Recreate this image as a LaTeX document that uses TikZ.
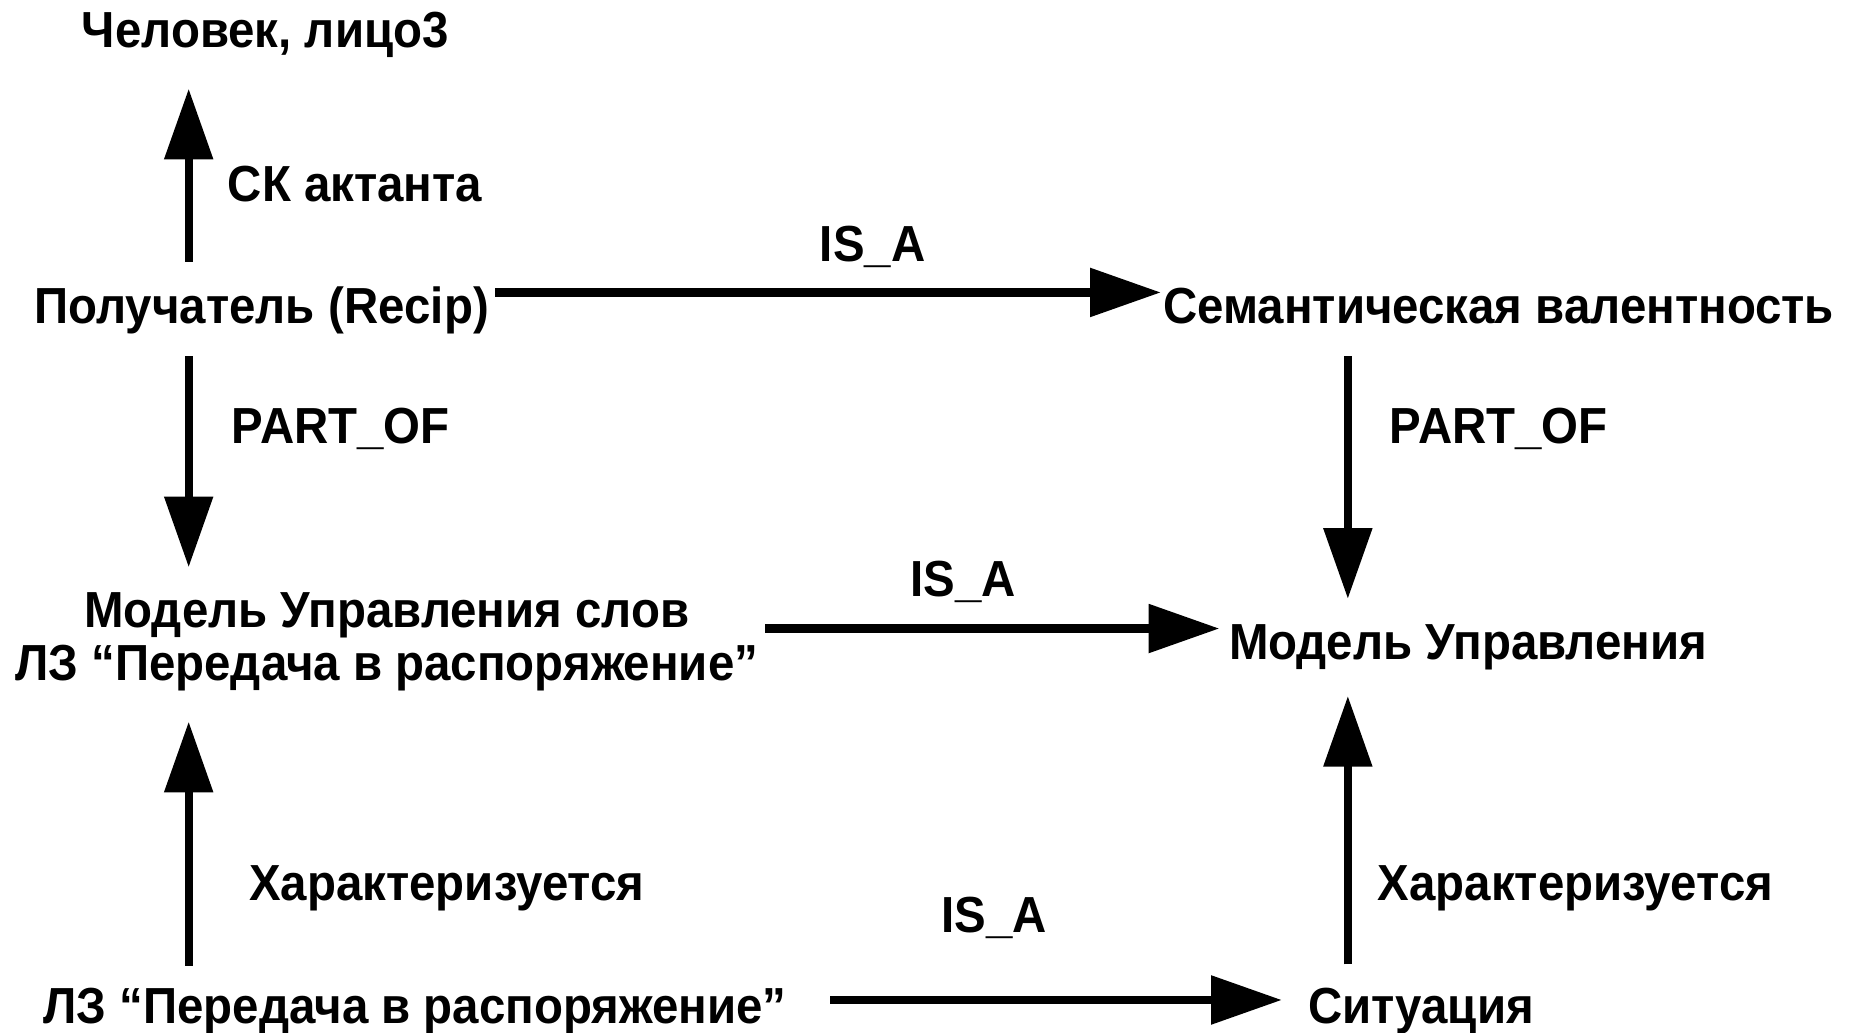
\documentclass[tikz,border=0pt]{standalone}
\usepackage{fontspec}
\setmainfont{Liberation Sans}[FakeStretch=0.935]
\usetikzlibrary{arrows.meta}
\begin{document}
\begin{tikzpicture}[x=1pt,y=-1pt,
  lbl/.style={inner sep=0pt, font=\bfseries\fontsize{43}{46}\selectfont, text height=31pt, text depth=9pt, anchor=base},
  mlbl/.style={inner sep=0pt, font=\bfseries\fontsize{43}{45}\selectfont, align=center, anchor=center},
  arr/.style={line width=7pt, -{Triangle[length=60pt,width=40pt]}}
]
\fill[white] (0,0) rectangle (1568,876);
\useasboundingbox (0,0) rectangle (1568,876);
\coordinate (cL) at (160,0);
\coordinate (cR) at (1143,0);

\node[lbl] (chel) at (225,40) {Человек, лицо3};
\node[lbl] (ska) at (301,171) {СК актанта};
\node[lbl] (recip) at (222,274) {Получатель (Recip)};
\node[lbl] (isa1) at (740,222) {IS\_A};
\node[lbl] (sem) at (1271,274) {Семантическая валентность};
\node[lbl] (po1) at (289,376) {PART\_OF};
\node[lbl] (po2) at (1271,376) {PART\_OF};
\node[mlbl] (mus) at (328,544) {Модель Управления слов\\ЛЗ “Передача в распоряжение”};
\node[lbl] (isa2) at (817,506) {IS\_A};
\node[lbl] (mu) at (1245,559) {Модель Управления};
\node[lbl] (char1) at (379,764) {Характеризуется};
\node[lbl] (char2) at (1336,764) {Характеризуется};
\node[lbl] (isa3) at (843,791) {IS\_A};
\node[lbl] (lz) at (352,868) {ЛЗ “Передача в распоряжение”};
\node[lbl] (sit) at (1205,868) {Ситуация};

\draw[arr, shorten <=21pt, shorten >=26pt] (recip.north -| cL) -- (chel.south -| cL);
\draw[arr, shorten <=19pt, shorten >=21pt] (recip.south -| cL) -- (mus.north -| cL);
\draw[arr, shorten <=18pt, shorten >=26pt] (lz.north -| cL) -- (mus.south -| cL);
\draw[arr, shorten <=19pt, shorten >=20pt] (sem.south -| cR) -- (mu.north -| cR);
\draw[arr, shorten <=19pt, shorten >=22pt] (sit.north -| cR) -- (mu.south -| cR);

\draw[arr] ([xshift=5pt,yshift=26pt]recip.base east) -- ([xshift=-2pt,yshift=26pt]sem.base west);
\draw[arr] ([xshift=6pt,yshift=11pt]mus.east) -- ([xshift=-8pt,yshift=26pt]mu.base west);
\draw[arr] ([xshift=37pt,yshift=20pt]lz.base east) -- ([xshift=-22pt,yshift=20pt]sit.base west);
\end{tikzpicture}
\end{document}
